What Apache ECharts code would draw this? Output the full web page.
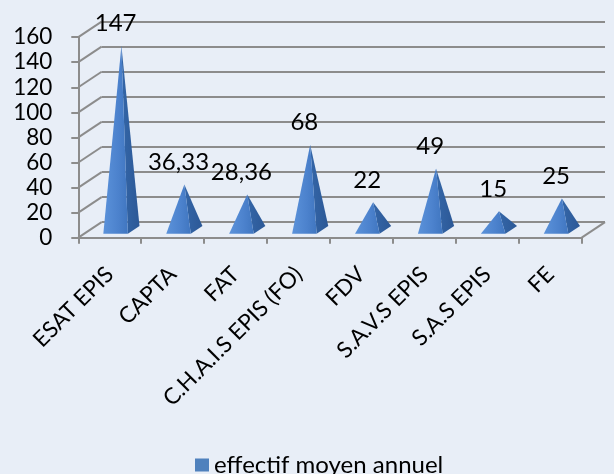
<!DOCTYPE html>
<html>
<head>
<meta charset="utf-8">
<script src="https://cdn.jsdelivr.net/npm/echarts@6/dist/echarts.min.js"></script>
<style>
  html, body { margin: 0; padding: 0; background: #E8EEF7; }
  #chart { width: 614px; height: 474px; }
</style>
</head>
<body>
<div id="chart"></div>
<script>
// Effectif moyen annuel par structure
const categories = ['ESAT EPIS', 'CAPTA', 'FAT', 'C.H.A.I.S EPIS (FO)', 'FDV', 'S.A.V.S EPIS', 'S.A.S EPIS', 'FE'];
const values = [147, 36.33, 28.36, 68, 22, 49, 15, 25];
const seriesName = 'effectif moyen annuel';
const yMin = 0;
const yMax = 160;
const yStep = 20;

// Oblique depth of the pseudo-3D box
const DX = 23.3;
const DY = 15.5;

const FONT = 'Lato';
const GRID_COLOR = '#8C8C8C';

const yTicks = [];
for (let t = yMin; t <= yMax; t += yStep) yTicks.push(t);

// Wall connectors: one left diagonal per tick, plus the floor's right diagonal
const wallData = yTicks.map(t => [0, t, -1]);
wallData.push([categories.length - 1, yMin, 1]);

const chart = echarts.init(document.getElementById('chart'), null, { renderer: 'canvas' });

const frontGrid = { left: 78.3, right: 32.3, top: 37.1, bottom: 236.3 };
const backGrid = {
  left: frontGrid.left + DX,
  right: frontGrid.right - DX,
  top: frontGrid.top - DY,
  bottom: frontGrid.bottom + DY
};

function renderWall(params, api) {
  const cat = api.value(0);
  const v = api.value(1);
  const side = api.value(2);
  const p = api.coord([cat, v]);
  const band = api.size([1, 0])[0];
  const x0 = p[0] + side * band / 2;
  return {
    type: 'line',
    shape: { x1: x0, y1: p[1], x2: x0 + DX, y2: p[1] - DY },
    style: { stroke: GRID_COLOR, lineWidth: 2 },
    silent: true
  };
}

function renderPyramid(params, api) {
  const cat = api.value(0);
  const v = api.value(1);
  const base = api.coord([cat, 0]);
  const top = api.coord([cat, v]);
  const band = api.size([1, 0])[0];
  const hw = band * 0.195;
  const fc = [base[0] + DX * 0.25, base[1] - DY * 0.25];
  const bc = [base[0] + DX * 0.75, base[1] - DY * 0.75];
  const apex = [top[0] + DX * 0.5, top[1] - DY * 0.5];
  const label = String(v).replace('.', ',');
  return {
    type: 'group',
    children: [
      {
        type: 'polygon',
        shape: { points: [[fc[0] + hw, fc[1]], [bc[0] + hw, bc[1]], apex] },
        style: {
          fill: new echarts.graphic.LinearGradient(0, 0, 1, 0, [
            { offset: 0, color: '#3466A8' },
            { offset: 1, color: '#2C5896' }
          ])
        }
      },
      {
        type: 'polygon',
        shape: { points: [[fc[0] - hw, fc[1]], [fc[0] + hw, fc[1]], apex] },
        style: {
          fill: new echarts.graphic.LinearGradient(0, 0, 1, 0, [
            { offset: 0, color: '#5B92DA' },
            { offset: 0.6, color: '#4C82CD' },
            { offset: 1, color: '#4076C0' }
          ])
        }
      },
      {
        type: 'text',
        style: {
          text: label,
          x: fc[0],
          y: apex[1] - 22,
          align: 'center',
          verticalAlign: 'middle',
          fill: '#000000',
          font: '24px ' + FONT
        }
      }
    ]
  };
}

const option = {
  backgroundColor: '#E8EEF7',
  animation: false,
  textStyle: { fontFamily: FONT },
  legend: {
    data: [seriesName],
    left: 190,
    top: 448,
    itemWidth: 14,
    itemHeight: 13,
    icon: 'rect',
    textStyle: { fontFamily: FONT, fontSize: 24, color: '#000000' }
  },
  grid: [
    Object.assign({ containLabel: false }, frontGrid),
    Object.assign({ containLabel: false }, backGrid)
  ],
  xAxis: [
    {
      type: 'category',
      gridIndex: 0,
      data: categories,
      boundaryGap: true,
      axisLine: { show: true, lineStyle: { color: GRID_COLOR, width: 2 } },
      axisTick: { show: true, alignWithLabel: false, length: 6, lineStyle: { color: GRID_COLOR, width: 2 } },
      axisLabel: {
        interval: 0,
        rotate: 45,
        margin: 33,
        fontFamily: FONT,
        fontSize: 22.5,
        color: '#000000'
      },
      splitLine: { show: false }
    },
    {
      type: 'category',
      gridIndex: 1,
      data: categories,
      show: false
    }
  ],
  yAxis: [
    {
      type: 'value',
      gridIndex: 0,
      min: yMin,
      max: yMax,
      interval: yStep,
      axisLine: { show: true, lineStyle: { color: GRID_COLOR, width: 2 } },
      axisTick: { show: true, length: 7, lineStyle: { color: GRID_COLOR, width: 2 } },
      axisLabel: { margin: 26, fontFamily: FONT, fontSize: 22.5, color: '#000000', padding: [3, 0, 0, 0] },
      splitLine: { show: false }
    },
    {
      type: 'value',
      gridIndex: 1,
      min: yMin,
      max: yMax,
      interval: yStep,
      axisLine: { show: false },
      axisTick: { show: false },
      axisLabel: { show: false },
      splitLine: { show: true, lineStyle: { color: GRID_COLOR, width: 2 } }
    }
  ],
  series: [
    {
      type: 'custom',
      name: 'wall',
      xAxisIndex: 0,
      yAxisIndex: 0,
      renderItem: renderWall,
      encode: { x: 0, y: 1 },
      data: wallData,
      silent: true,
      z: 1
    },
    {
      type: 'custom',
      name: seriesName,
      xAxisIndex: 0,
      yAxisIndex: 0,
      itemStyle: { color: '#4F81BD' },
      renderItem: renderPyramid,
      encode: { x: 0, y: 1 },
      data: values.map((v, i) => [i, v]),
      z: 5
    }
  ]
};

chart.setOption(option);
</script>
</body>
</html>
